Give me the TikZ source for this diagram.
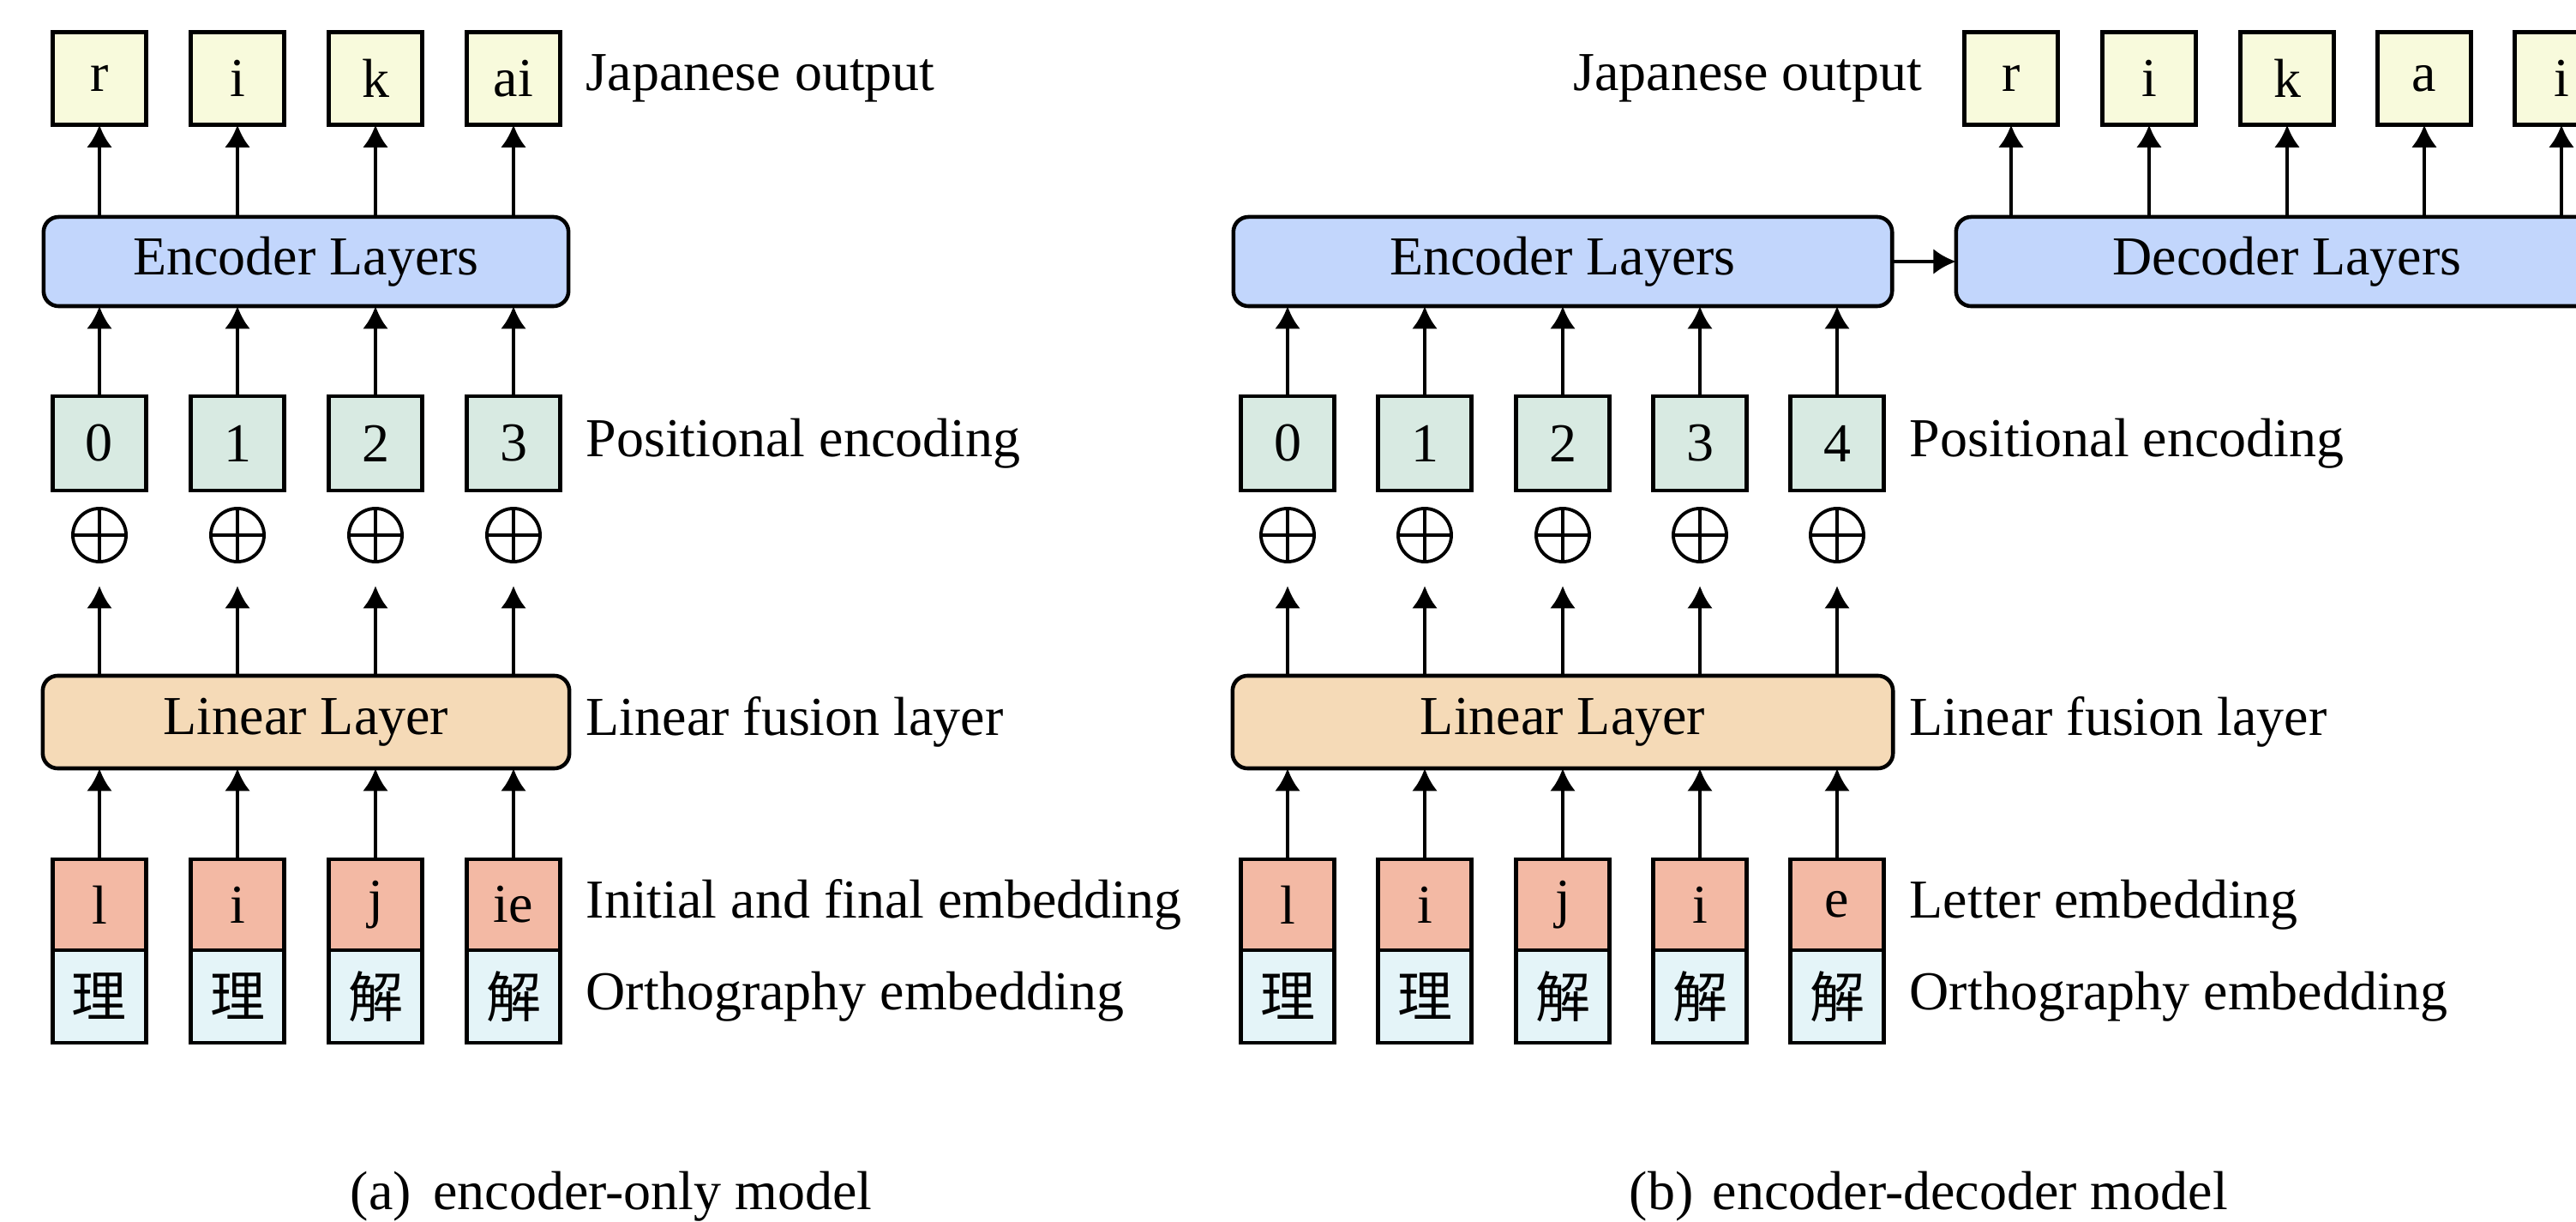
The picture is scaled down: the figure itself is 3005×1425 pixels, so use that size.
\documentclass[tikz,border=0pt]{standalone}
\usepackage{fontspec}
\setmainfont{Liberation Serif}
\newfontfamily\cjk{Noto Sans CJK JP}
\usetikzlibrary{arrows.meta}
\definecolor{outc}{RGB}{248,250,220}
\definecolor{encc}{RGB}{194,214,252}
\definecolor{posc}{RGB}{216,234,226}
\definecolor{linc}{RGB}{245,218,183}
\definecolor{letc}{RGB}{243,185,164}
\definecolor{orthc}{RGB}{228,244,248}
\begin{document}
\begin{tikzpicture}[x=0.01cm,y=-0.01cm,
  every node/.style={font=\fontsize{18.2}{22}\selectfont},
  cell/.style={draw, line width=1.3pt, minimum width=1.09cm, minimum height=1.08cm, inner sep=0pt, outer sep=0pt},
  outbox/.style={cell, fill=outc},
  posbox/.style={cell, fill=posc, minimum height=1.10cm},
  letbox/.style={cell, fill=letc, minimum height=1.06cm},
  orthbox/.style={cell, fill=orthc, minimum height=1.08cm},
  layer/.style={draw, line width=1.3pt, rounded corners=5pt, inner sep=0pt, outer sep=0pt},
  encbox/.style={layer, fill=encc, minimum height=1.04cm},
  linbox/.style={layer, fill=linc, minimum height=1.08cm},
  plus/.style={circle, draw, line width=1.1pt, minimum size=0.62cm, inner sep=0pt, outer sep=0pt,
    path picture={\draw[line width=1.1pt] (path picture bounding box.north) -- (path picture bounding box.south)
      (path picture bounding box.west) -- (path picture bounding box.east);}},
  arr/.style={-{Latex[length=7.5pt,width=8.5pt]}, line width=1.3pt},
  lab/.style={anchor=west, inner sep=0pt},
  caption/.style={anchor=base west, inner sep=0pt},
]
\useasboundingbox (0,0) rectangle (3005,1425);
\clip (0,0) rectangle (3005,1425);

% ---------------- (a) encoder-only model ----------------
\node[encbox, minimum width=6.12cm] (encA) at (357,305) {Encoder Layers};
\node[linbox, minimum width=6.14cm] (linA) at (357,842) {Linear Layer};
\foreach \i/\x/\o/\p/\l/\c in {1/116/r/0/l/理, 2/277/i/1/i/理, 3/438/k/2/j/解, 4/599/ai/3/ie/解}{
  \node[outbox] (ao\i) at (\x,91.5) {\o};
  \node[posbox] (ap\i) at (\x,517) {\p};
  \node[plus] (ac\i) at (\x,624) {};
  \node[letbox] (al\i) at (\x,1055) {\l};
  \node[orthbox] (ar\i) at (\x,1162) {\cjk \c};
  \draw[arr] (encA.north -| ao\i) -- (ao\i.south);
  \draw[arr] (ap\i.north) -- (encA.south -| ap\i);
  \draw[arr, shorten >=0.28cm] (linA.north -| ac\i) -- (ac\i.south);
  \draw[arr] (al\i.north) -- (linA.south -| al\i);
}
\node[lab] (aJ) at (683,91.5) {Japanese output};
\node[lab] (aP) at (683,517) {Positional encoding};
\node[lab] (aL) at (683,842) {Linear fusion layer};
\node[lab] (aI) at (683,1055) {Initial and final embedding};
\node[lab] (aO) at (683,1162) {Orthography embedding};
\node[caption] (capA) at (408,1410) {(a)\hspace{0.4em}encoder-only model};

% ---------------- (b) encoder-decoder model ----------------
\node[encbox, minimum width=7.68cm] (encB) at (1823,305) {Encoder Layers};
\node[encbox, minimum width=7.72cm] (decB) at (2668,305) {Decoder Layers};
\node[linbox, minimum width=7.70cm] (linB) at (1823,842) {Linear Layer};
\draw[arr] (encB.east) -- (decB.west);
\foreach \i/\x/\p/\l/\c in {1/1502/0/l/理, 2/1662/1/i/理, 3/1823/2/j/解, 4/1983/3/i/解, 5/2143/4/e/解}{
  \node[posbox] (bp\i) at (\x,517) {\p};
  \node[plus] (bc\i) at (\x,624) {};
  \node[letbox] (bl\i) at (\x,1055) {\l};
  \node[orthbox] (br\i) at (\x,1162) {\cjk \c};
  \draw[arr] (bp\i.north) -- (encB.south -| bp\i);
  \draw[arr, shorten >=0.28cm] (linB.north -| bc\i) -- (bc\i.south);
  \draw[arr] (bl\i.north) -- (linB.south -| bl\i);
}
\foreach \i/\x/\o in {1/2346/r, 2/2507/i, 3/2668/k, 4/2828/a, 5/2988/i}{
  \node[outbox] (bo\i) at (\x,91.5) {\o};
  \draw[arr] (decB.north -| bo\i) -- (bo\i.south);
}
\node[lab, anchor=east] (bJ) at (2243,91.5) {Japanese output};
\node[lab] (bP) at (2227,517) {Positional encoding};
\node[lab] (bL) at (2227,842) {Linear fusion layer};
\node[lab] (bI) at (2227,1055) {Letter embedding};
\node[lab] (bO) at (2227,1162) {Orthography embedding};
\node[caption] (capB) at (1900,1410) {(b)\hspace{0.35em}encoder-decoder model};
\end{tikzpicture}
\end{document}
